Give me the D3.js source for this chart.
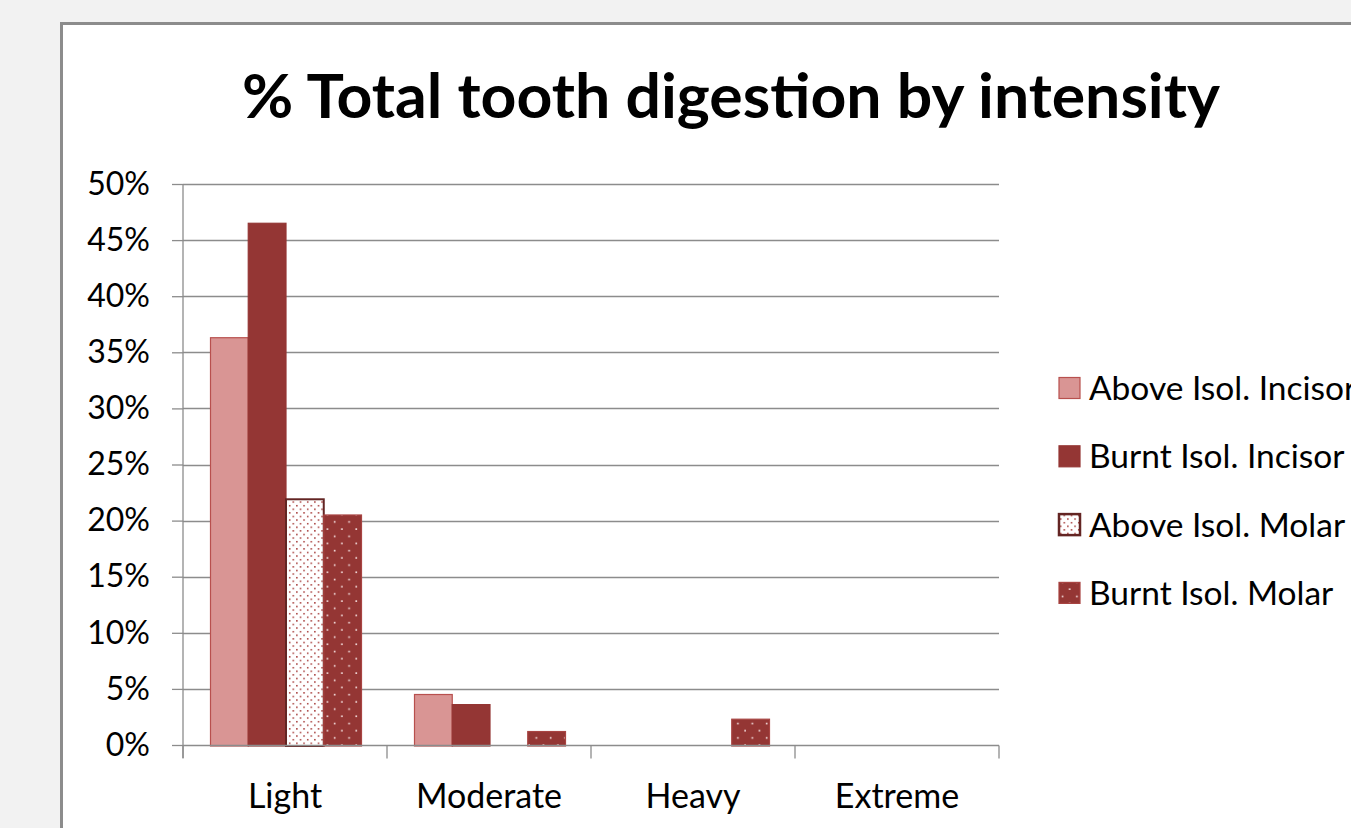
<!DOCTYPE html>
<html>
<head>
<meta charset="utf-8">
<script src="https://cdnjs.cloudflare.com/ajax/libs/d3/7.8.5/d3.min.js"></script>
<style>
  body { margin: 0; background: #f2f2f2; overflow: hidden; }
  text { font-family: Lato, "Open Sans", sans-serif; fill: #000; }
</style>
</head>
<body>
<div id="chart"></div>
<script>
// Data (percent)
var categories = ["Light", "Moderate", "Heavy", "Extreme"];
var seriesNames = ["Above Isol. Incisor", "Burnt Isol. Incisor", "Above Isol. Molar", "Burnt Isol. Molar"];
var aboveIncisor = [36.3, 4.5, 0, 0];
var burntIncisor = [46.5, 3.6, 0, 0];
var aboveMolar = [21.9, 0, 0, 0];
var burntMolar = [20.5, 1.2, 2.3, 0];
var yTicks = [0, 5, 10, 15, 20, 25, 30, 35, 40, 45, 50];

var seriesValues = [aboveIncisor, burntIncisor, aboveMolar, burntMolar];

var W = 1351, H = 828;
var plot = {left: 183, right: 999, top: 184, bottom: 745};

var svg = d3.select("#chart").append("svg")
    .attr("width", W)
    .attr("height", H);

// Patterns
var defs = svg.append("defs");
var p1 = defs.append("pattern")
    .attr("id", "finedots")
    .attr("patternUnits", "userSpaceOnUse")
    .attr("width", 8).attr("height", 8)
    .attr("patternTransform", "scale(0.9)");
p1.append("rect").attr("width", 8).attr("height", 8).attr("fill", "#fff");
p1.append("rect").attr("x", 1).attr("y", 1).attr("width", 1.7).attr("height", 1.7).attr("fill", "#a8403e");
p1.append("rect").attr("x", 5).attr("y", 5).attr("width", 1.7).attr("height", 1.7).attr("fill", "#a8403e");

var p2 = defs.append("pattern")
    .attr("id", "sparsedots")
    .attr("patternUnits", "userSpaceOnUse")
    .attr("width", 16).attr("height", 16)
    .attr("patternTransform", "scale(0.9)");
p2.append("rect").attr("width", 16).attr("height", 16).attr("fill", "#943634");
p2.append("rect").attr("x", 3).attr("y", 3).attr("width", 1.8).attr("height", 1.8).attr("fill", "#f6e2e2");
p2.append("rect").attr("x", 11).attr("y", 11).attr("width", 1.8).attr("height", 1.8).attr("fill", "#f6e2e2");

var fills = ["#d99594", "#943634", "url(#finedots)", "url(#sparsedots)"];
var strokes = ["#b8504e", "#943634", "#632523", "#a84442"];

// Chart box
svg.append("rect")
    .attr("x", 61.5).attr("y", 23.5)
    .attr("width", 1400).attr("height", 900)
    .attr("fill", "#fff")
    .attr("stroke", "#8c8c8c")
    .attr("stroke-width", 3);

// Title
svg.append("text")
    .attr("x", 731).attr("y", 118)
    .attr("text-anchor", "middle")
    .attr("textLength", 978)
    .attr("lengthAdjust", "spacingAndGlyphs")
    .style("font-size", "62px")
    .style("font-weight", "bold")
    .text("% Total tooth digestion by intensity");

// Scales
var x = d3.scaleBand()
    .domain(categories)
    .range([plot.left, plot.right]);
var x1 = d3.scaleBand()
    .domain(seriesNames)
    .range([27.5, x.bandwidth() - 25.5]);
var y = d3.scaleLinear()
    .domain([0, 50])
    .range([plot.bottom, plot.top]);

// Gridlines
svg.append("g").selectAll("line")
    .data(yTicks.slice(1))
    .enter().append("line")
    .attr("x1", plot.left).attr("x2", plot.right)
    .attr("y1", function(d) { return Math.round(y(d)) + 0.5; })
    .attr("y2", function(d) { return Math.round(y(d)) + 0.5; })
    .attr("stroke", "#8c8c8c")
    .attr("stroke-width", 1.3);

// Bars
var rows = [];
categories.forEach(function(c, i) {
  seriesNames.forEach(function(s, j) {
    rows.push({cat: c, s: s, j: j, v: seriesValues[j][i]});
  });
});

svg.append("g").selectAll("rect")
    .data(rows.filter(function(d) { return d.v > 0; }))
    .enter().append("rect")
    .attr("x", function(d) { return x(d.cat) + x1(d.s); })
    .attr("width", x1.bandwidth())
    .attr("y", function(d) { return y(d.v); })
    .attr("height", function(d) { return y(0) - y(d.v) + 1; })
    .attr("fill", function(d) { return fills[d.j]; })
    .attr("stroke", function(d) { return strokes[d.j]; })
    .attr("stroke-width", function(d) { return d.j == 2 ? 2 : 1.2; });

// Y axis
var yAxis = svg.append("g")
    .attr("transform", "translate(" + plot.left + ",0)")
    .call(d3.axisLeft(y).tickValues(yTicks).tickSize(11).tickPadding(22)
      .tickFormat(function(d) { return d + "%"; }));
yAxis.select(".domain").remove();
yAxis.append("line")
    .attr("x1", 0).attr("x2", 0)
    .attr("y1", plot.top).attr("y2", plot.bottom + 13);
yAxis.selectAll("line").attr("stroke", "#8c8c8c").attr("stroke-width", 1.3);
yAxis.selectAll("text")
    .style("font-size", "32px")
    .style("font-family", "Lato, 'Open Sans', sans-serif")
    .attr("fill", "#000");

// X axis
var xAxis = svg.append("g")
    .attr("transform", "translate(0," + (Math.round(y(0)) + 0.5) + ")");
xAxis.append("line")
    .attr("x1", plot.left).attr("x2", plot.right)
    .attr("stroke", "#8c8c8c").attr("stroke-width", 1.3);
xAxis.selectAll(".tk")
    .data(categories.concat(["end"]))
    .enter().append("line")
    .attr("x1", function(d, i) { return plot.left + i * x.bandwidth(); })
    .attr("x2", function(d, i) { return plot.left + i * x.bandwidth(); })
    .attr("y1", 0).attr("y2", 13)
    .attr("stroke", "#8c8c8c").attr("stroke-width", 1.3);
xAxis.selectAll("text")
    .data(categories)
    .enter().append("text")
    .attr("x", function(d) { return x(d) + x.bandwidth() / 2; })
    .attr("y", 62)
    .attr("text-anchor", "middle")
    .style("font-size", "34px")
    .text(function(d) { return d; });

// Legend
var legend = svg.append("g").selectAll("g")
    .data(seriesNames)
    .enter().append("g")
    .attr("transform", function(d, i) { return "translate(1059," + (388 + i * 68.3) + ")"; });
legend.append("rect")
    .attr("x", 0).attr("y", -10.5)
    .attr("width", 21).attr("height", 21)
    .attr("fill", function(d, i) { return fills[i]; })
    .attr("stroke", function(d, i) { return strokes[i]; })
    .attr("stroke-width", function(d, i) { return i == 2 ? 2.5 : 1.2; });
legend.append("text")
    .attr("x", 30).attr("y", 12)
    .style("font-size", "33.5px")
    .text(function(d) { return d; });
</script>
</body>
</html>
